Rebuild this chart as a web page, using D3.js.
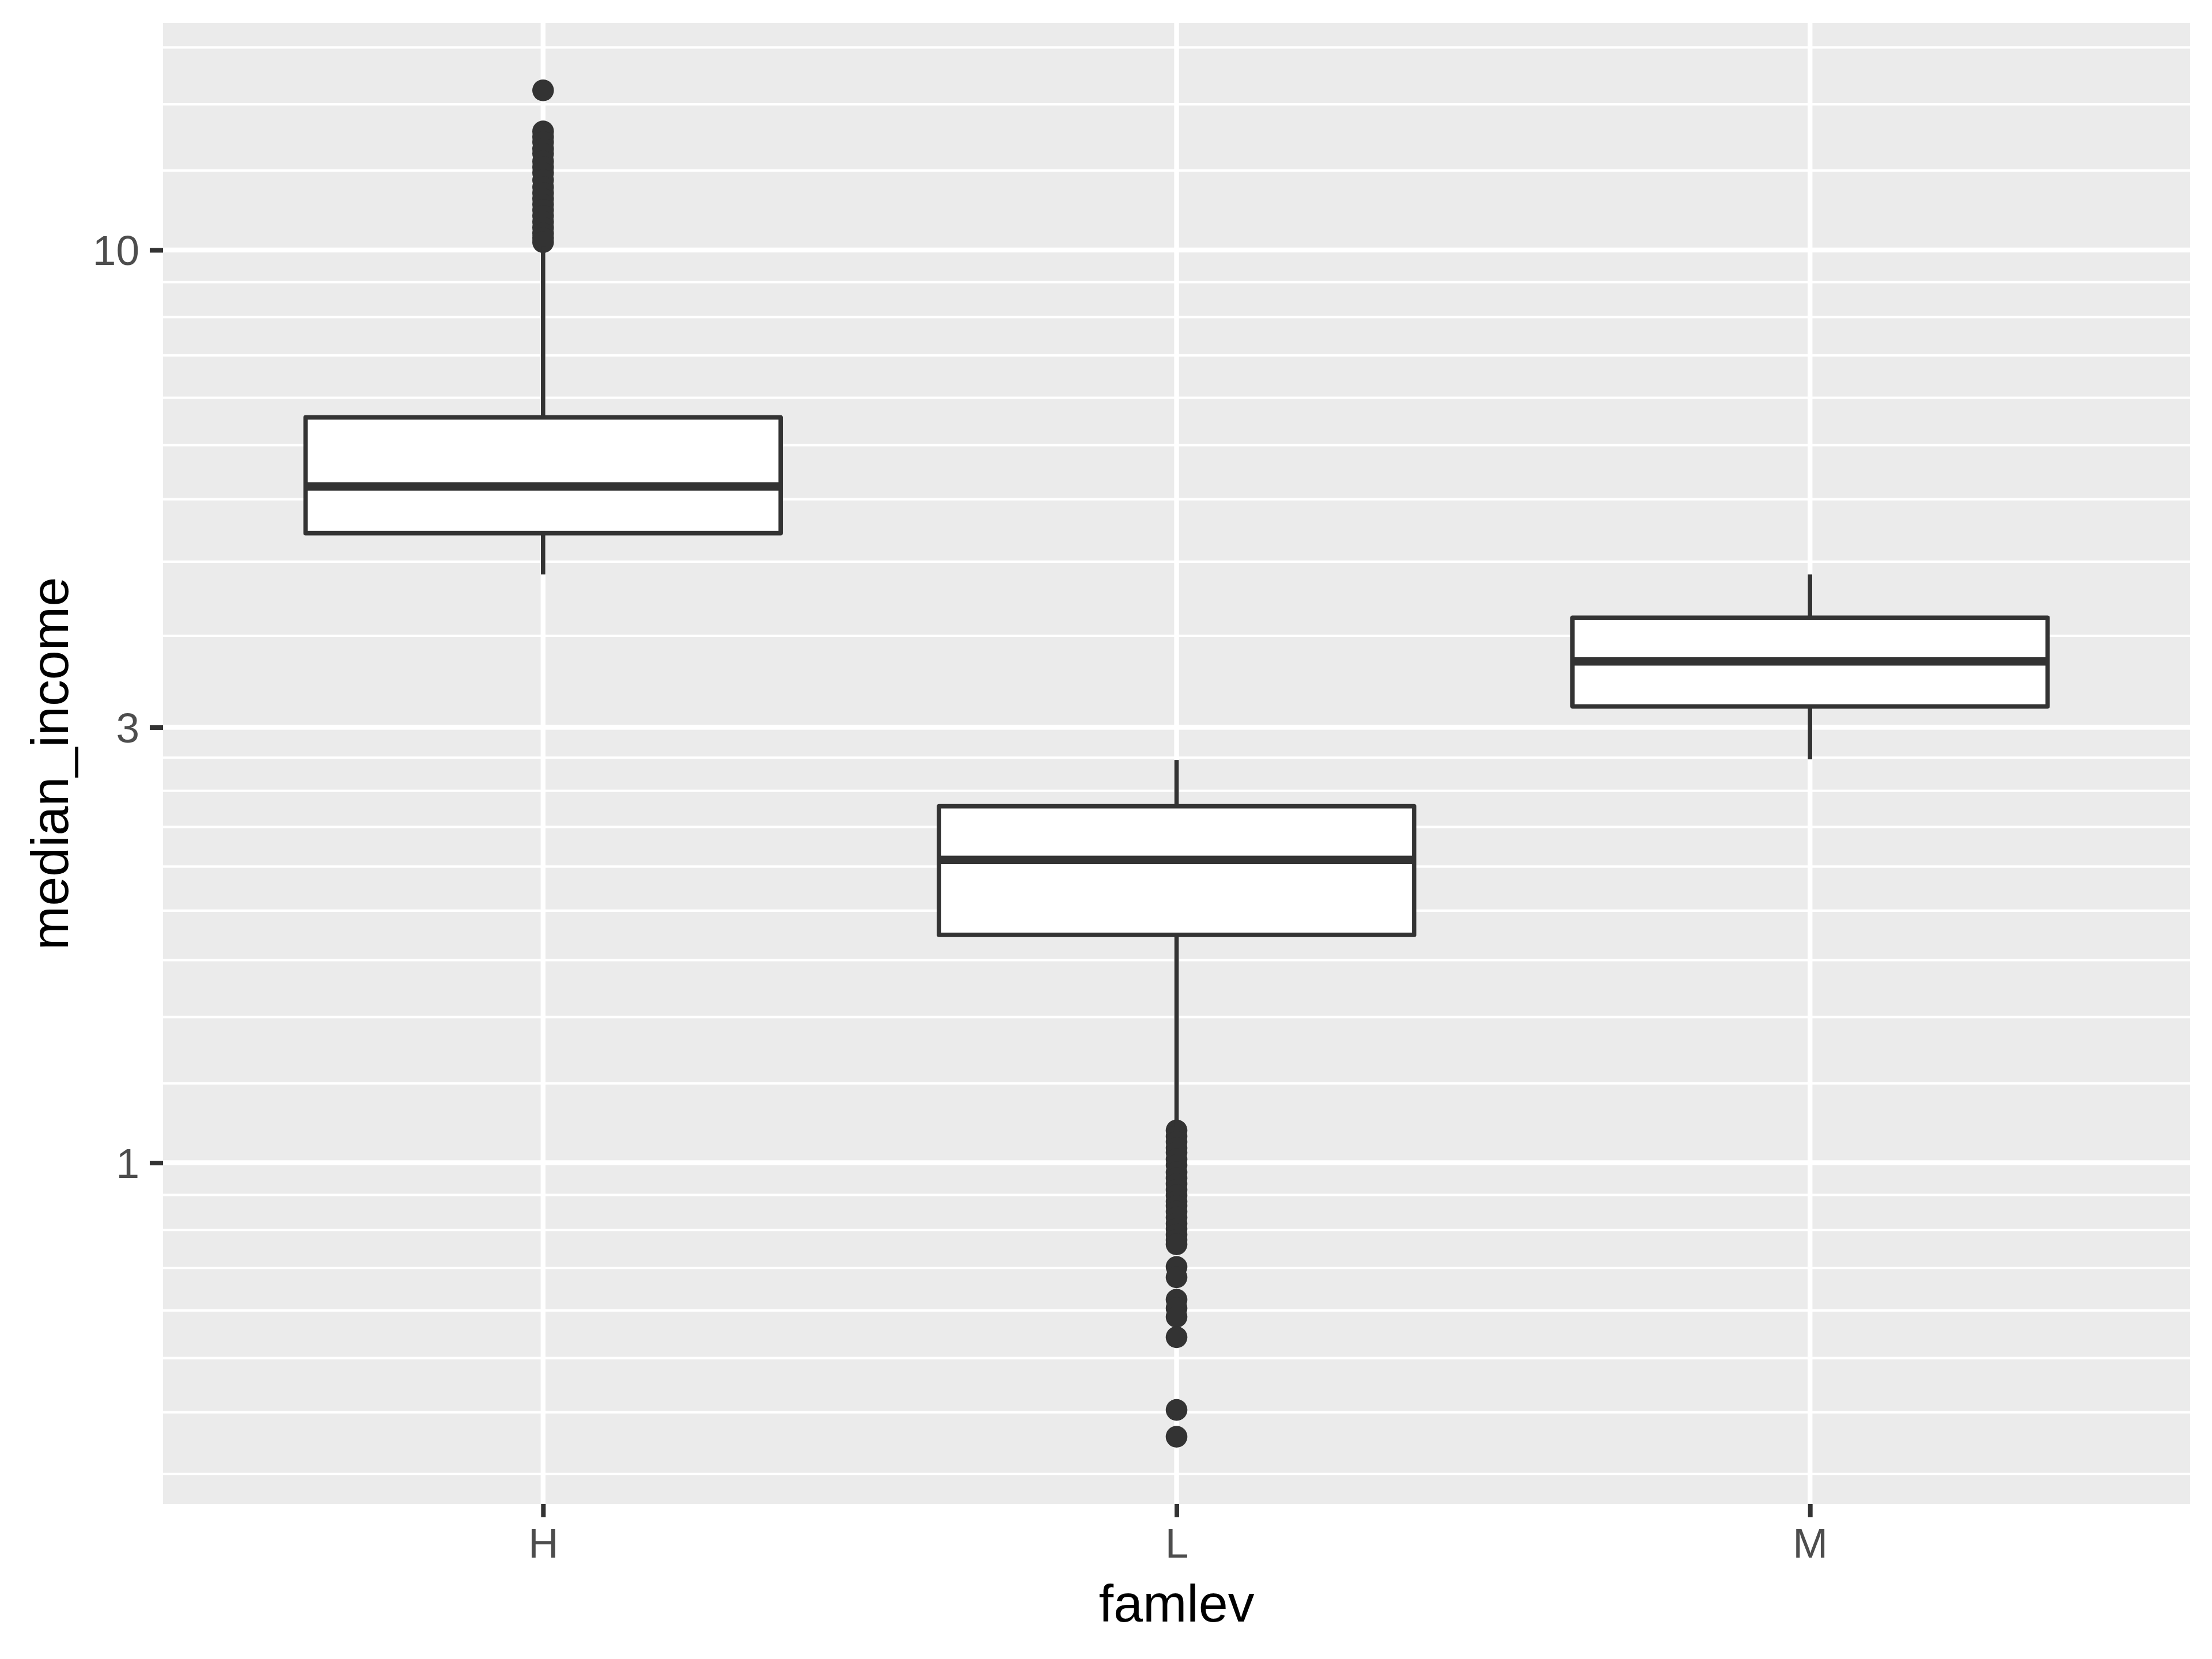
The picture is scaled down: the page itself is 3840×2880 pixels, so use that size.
<!DOCTYPE html>
<html>
<head>
<meta charset="utf-8">
<script src="https://cdn.jsdelivr.net/npm/d3@7"></script>
<style>
  html, body { margin: 0; padding: 0; background: #ffffff; }
  svg { display: block; }
</style>
</head>
<body>
<script>
// ---------------- data ----------------
const categories = ["H", "L", "M"];
const q1Values = [4.895, 1.777, 3.162];
const medianValues = [5.508, 2.147, 3.542];
const q3Values = [6.556, 2.458, 3.956];
const whiskerLowValues = [4.411, 1.095, 2.767];
const whiskerHighValues = [10.10, 2.763, 4.411];

const outliersH = [14.96, 13.49, 13.30, 13.13, 12.91, 12.75, 12.51, 12.33, 12.15, 11.93,
  11.72, 11.55, 11.38, 11.22, 11.06, 10.90, 10.74, 10.58, 10.43, 10.31, 10.20];
const outliersL = [1.085, 1.069, 1.054, 1.038, 1.026, 1.009, 0.994, 0.976, 0.962, 0.948,
  0.934, 0.921, 0.907, 0.897, 0.884, 0.871, 0.858, 0.846, 0.834, 0.823, 0.814,
  0.769, 0.749, 0.708, 0.693, 0.678, 0.644, 0.536, 0.501];
const outliersM = [];

const yMajorTicks = [1, 3, 10];
const yTickLabels = ["1", "3", "10"];
const yMinorTicks = [0.456, 0.533, 0.611, 0.689, 0.767, 0.844, 0.922,
  1.222, 1.444, 1.667, 1.889, 2.111, 2.333, 2.556, 2.778,
  3.778, 4.556, 5.333, 6.111, 6.889, 7.667, 8.444, 9.222,
  12.22, 14.44, 16.67];
const xTitle = "famlev";
const yTitle = "median_income";

// ---------------- layout ----------------
const W = 3840, H = 2880;
const panel = { left: 283, right: 3802, top: 40, bottom: 2611 };
const FONT = "'Liberation Sans', Arial, Helvetica, sans-serif";
const dark = "#333333";

const svg = d3.select("body").append("svg")
  .attr("width", W).attr("height", H)
  .attr("viewBox", `0 0 ${W} ${H}`);

svg.append("rect").attr("width", W).attr("height", H).attr("fill", "#ffffff");

// data-driven y-domain with 5% expansion in log space (like ggplot)
const outlierSets = [outliersH, outliersL, outliersM];
const allVals = [].concat(q1Values, q3Values, whiskerLowValues, whiskerHighValues, ...outlierSets);
const lmin = Math.log10(d3.min(allVals)), lmax = Math.log10(d3.max(allVals));
const pad = (lmax - lmin) * 0.05;
const y = d3.scaleLog()
  .domain([Math.pow(10, lmin - pad), Math.pow(10, lmax + pad)])
  .range([panel.bottom, panel.top]);

const x = d3.scalePoint()
  .domain(categories)
  .range([panel.left, panel.right])
  .padding(0.6);
const boxW = x.step() * 0.75;

// ---------------- panel ----------------
svg.append("rect")
  .attr("x", panel.left).attr("y", panel.top)
  .attr("width", panel.right - panel.left)
  .attr("height", panel.bottom - panel.top)
  .attr("fill", "#EBEBEB");

const grid = svg.append("g");
const [d0, d1] = y.domain();
grid.selectAll("line.minor")
  .data(yMinorTicks.filter(v => v >= d0 && v <= d1))
  .join("line").attr("class", "minor")
  .attr("x1", panel.left).attr("x2", panel.right)
  .attr("y1", d => y(d)).attr("y2", d => y(d))
  .attr("stroke", "#ffffff").attr("stroke-width", 4.2);
grid.selectAll("line.major")
  .data(yMajorTicks)
  .join("line").attr("class", "major")
  .attr("x1", panel.left).attr("x2", panel.right)
  .attr("y1", d => y(d)).attr("y2", d => y(d))
  .attr("stroke", "#ffffff").attr("stroke-width", 8.4);
grid.selectAll("line.vmajor")
  .data(categories)
  .join("line").attr("class", "vmajor")
  .attr("x1", d => x(d)).attr("x2", d => x(d))
  .attr("y1", panel.top).attr("y2", panel.bottom)
  .attr("stroke", "#ffffff").attr("stroke-width", 8.4);

// ---------------- boxplots ----------------
const boxes = categories.map((c, i) => ({
  cat: c, q1: q1Values[i], med: medianValues[i], q3: q3Values[i],
  lo: whiskerLowValues[i], hi: whiskerHighValues[i], out: outlierSets[i]
}));

const bg = svg.append("g");
boxes.forEach(b => {
  const g = bg.append("g");
  // outliers
  g.selectAll("circle")
    .data(b.out)
    .join("circle")
    .attr("cx", x(b.cat)).attr("cy", d => y(d))
    .attr("r", 18.8).attr("fill", dark);
  // whiskers
  g.append("line")
    .attr("x1", x(b.cat)).attr("x2", x(b.cat))
    .attr("y1", y(b.q3)).attr("y2", y(b.hi))
    .attr("stroke", dark).attr("stroke-width", 7.6);
  g.append("line")
    .attr("x1", x(b.cat)).attr("x2", x(b.cat))
    .attr("y1", y(b.q1)).attr("y2", y(b.lo))
    .attr("stroke", dark).attr("stroke-width", 7.6);
  // box
  g.append("rect")
    .attr("x", x(b.cat) - boxW / 2).attr("y", y(b.q3))
    .attr("width", boxW).attr("height", y(b.q1) - y(b.q3))
    .attr("fill", "#ffffff").attr("stroke", dark).attr("stroke-width", 7.6)
    .attr("stroke-linejoin", "round");
  // median
  g.append("line")
    .attr("x1", x(b.cat) - boxW / 2).attr("x2", x(b.cat) + boxW / 2)
    .attr("y1", y(b.med)).attr("y2", y(b.med))
    .attr("stroke", dark).attr("stroke-width", 14.5);
});

// ---------------- axes ----------------
const yAxis = d3.axisLeft(y)
  .tickValues(yMajorTicks)
  .tickFormat((d, i) => yTickLabels[i])
  .tickSize(23).tickPadding(18);
const gy = svg.append("g")
  .attr("transform", `translate(${panel.left},0)`)
  .call(yAxis);
gy.select(".domain").remove();
gy.selectAll(".tick line").attr("stroke", dark).attr("stroke-width", 8);
gy.selectAll(".tick text")
  .attr("fill", "#4D4D4D").attr("font-family", FONT).attr("font-size", 73)
  .attr("dy", "0.355em");

const xAxis = d3.axisBottom(x).tickSize(23).tickPadding(18);
const gx = svg.append("g")
  .attr("transform", `translate(0,${panel.bottom})`)
  .call(xAxis);
gx.select(".domain").remove();
gx.selectAll(".tick line").attr("stroke", dark).attr("stroke-width", 8);
gx.selectAll(".tick text")
  .attr("fill", "#4D4D4D").attr("font-family", FONT).attr("font-size", 73)
  .attr("dy", "0.71em");

// ---------------- titles ----------------
svg.append("text")
  .attr("x", (panel.left + panel.right) / 2).attr("y", 2815)
  .attr("text-anchor", "middle")
  .attr("font-family", FONT).attr("font-size", 91.7).attr("fill", "#000000")
  .text(xTitle);

svg.append("text")
  .attr("transform", `translate(118,${(panel.top + panel.bottom) / 2}) rotate(-90)`)
  .attr("text-anchor", "middle")
  .attr("font-family", FONT).attr("font-size", 91.7).attr("fill", "#000000")
  .text(yTitle);
</script>
</body>
</html>
